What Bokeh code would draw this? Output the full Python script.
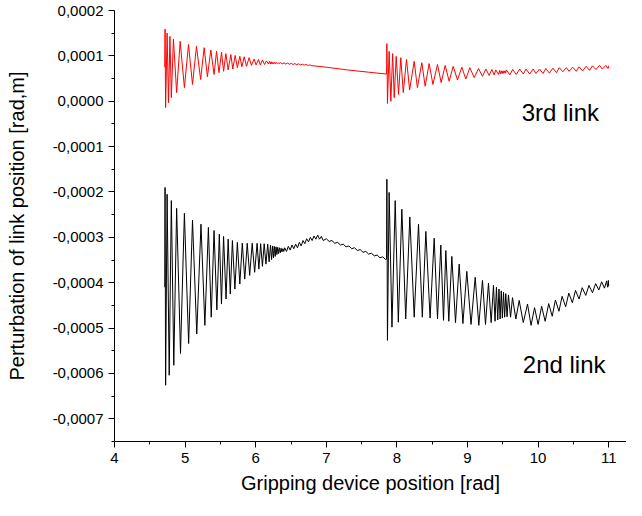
from bokeh.plotting import figure
from bokeh.models import Range1d, FixedTicker, Label
from bokeh.embed import file_html
from bokeh.resources import INLINE

# ---------------- data (y values in units of 1e-4 rad/m) ----------------
Y_UNIT = 1e-4

x_tick_values = [4, 5, 6, 7, 8, 9, 10, 11]
x_minor_values = [4.5, 5.5, 6.5, 7.5, 8.5, 9.5, 10.5]
y_tick_values = [-0.0007, -0.0006, -0.0005, -0.0004, -0.0003, -0.0002, -0.0001, 0.0, 0.0001, 0.0002]
y_tick_labels = ["-0,0007", "-0,0006", "-0,0005", "-0,0004", "-0,0003", "-0,0002", "-0,0001",
                 "0,0000", "0,0001", "0,0002"]
y_minor_values = [-0.00075, -0.00065, -0.00055, -0.00045, -0.00035, -0.00025, -0.00015,
                  -0.00005, 0.00005, 0.00015]

# 2nd link (black): extremes
link2_burst1 = [(4.712, -4.10), (4.716, -1.90), (4.724, -6.26), (4.745, -2.05), (4.775, -6.04),
                (4.805, -2.19), (4.840, -5.82), (4.880, -2.36), (4.935, -5.56), (4.990, -2.47),
                (5.050, -5.34), (5.105, -2.62), (5.165, -5.13), (5.225, -2.71), (5.280, -4.94),
                (5.330, -2.78), (5.370, -4.76), (5.410, -2.85), (5.450, -4.60), (5.485, -2.93),
                (5.515, -4.47), (5.545, -2.98), (5.580, -4.36), (5.610, -3.04), (5.640, -4.25),
                (5.670, -3.07), (5.705, -4.14), (5.740, -3.11), (5.775, -4.03), (5.810, -3.13),
                (5.845, -3.92), (5.880, -3.13), (5.915, -3.84), (5.950, -3.13), (5.985, -3.77),
                (6.020, -3.13), (6.045, -3.70), (6.070, -3.14), (6.095, -3.64), (6.120, -3.14),
                (6.145, -3.59), (6.170, -3.15), (6.190, -3.54), (6.210, -3.17), (6.225, -3.49),
                (6.240, -3.19), (6.252, -3.45), (6.264, -3.20), (6.276, -3.42), (6.288, -3.21),
                (6.300, -3.38), (6.312, -3.22), (6.324, -3.36), (6.336, -3.23), (6.348, -3.34),
                (6.360, -3.24), (6.372, -3.32), (6.385, -3.25), (6.398, -3.31)]
link2_ripple1 = [(6.410, -3.23), (6.436, -3.31), (6.462, -3.20), (6.488, -3.28), (6.514, -3.17),
                 (6.540, -3.25), (6.566, -3.15), (6.592, -3.23), (6.618, -3.11), (6.644, -3.19),
                 (6.670, -3.07), (6.696, -3.14), (6.722, -3.03), (6.748, -3.10), (6.774, -3.00),
                 (6.800, -3.07), (6.826, -2.97), (6.852, -3.04), (6.878, -2.95), (6.904, -3.04),
                 (6.930, -2.98), (6.956, -3.07), (7.00, -3.03), (7.04, -3.09), (7.08, -3.07),
                 (7.12, -3.13), (7.16, -3.11), (7.20, -3.17), (7.24, -3.15), (7.28, -3.21),
                 (7.32, -3.19), (7.36, -3.25), (7.40, -3.23), (7.44, -3.29), (7.48, -3.27),
                 (7.52, -3.33), (7.56, -3.31), (7.60, -3.37), (7.64, -3.35), (7.68, -3.41),
                 (7.72, -3.39), (7.76, -3.45), (7.80, -3.43), (7.84, -3.49)]
link2_burst2 = [(7.854, -3.48), (7.858, -1.72), (7.866, -5.27), (7.89, -2.01), (7.93, -4.98),
                (7.976, -2.19), (8.02, -4.87), (8.07, -2.38), (8.125, -4.80), (8.183, -2.55),
                (8.245, -4.76), (8.306, -2.71), (8.36, -4.76), (8.41, -2.87), (8.47, -4.78),
                (8.528, -3.02), (8.575, -4.80), (8.622, -3.17), (8.66, -4.83), (8.693, -3.29),
                (8.735, -4.85), (8.778, -3.42), (8.83, -4.88), (8.882, -3.59), (8.935, -4.90),
                (8.990, -3.75), (9.05, -4.92), (9.109, -3.88), (9.16, -4.94), (9.212, -3.95),
                (9.255, -4.92), (9.297, -4.01), (9.335, -4.88), (9.368, -4.06), (9.39, -4.85),
                (9.41, -4.10), (9.428, -4.82), (9.446, -4.14), (9.462, -4.80), (9.478, -4.18),
                (9.494, -4.78), (9.510, -4.21), (9.526, -4.76), (9.542, -4.24), (9.56, -4.75),
                (9.58, -4.27), (9.61, -4.76), (9.637, -4.33), (9.685, -4.80), (9.732, -4.39),
                (9.79, -4.88), (9.850, -4.47), (9.90, -4.94), (9.95, -4.55), (10.00, -4.92)]
link2_ripple2 = [(10.05, -4.52), (10.10, -4.85), (10.15, -4.46), (10.20, -4.74), (10.245, -4.38),
                 (10.295, -4.63), (10.34, -4.30), (10.39, -4.53), (10.435, -4.23), (10.485, -4.44),
                 (10.53, -4.17), (10.58, -4.36), (10.625, -4.11), (10.675, -4.28), (10.72, -4.06),
                 (10.77, -4.22), (10.815, -4.02), (10.86, -4.16), (10.90, -3.98), (10.94, -4.12),
                 (10.97, -3.96), (10.985, -4.10), (10.995, -3.95), (11.0, -4.08)]

# 3rd link (red): extremes
link3_burst1 = [(4.712, 0.75), (4.716, 1.59), (4.724, -0.14), (4.745, 1.50), (4.765, -0.03),
                (4.785, 1.43), (4.805, 0.08), (4.835, 1.37), (4.88, 0.19), (4.93, 1.32),
                (4.99, 0.30), (5.048, 1.25), (5.105, 0.37), (5.161, 1.21), (5.22, 0.48),
                (5.27, 1.18), (5.316, 0.54), (5.364, 1.13), (5.41, 0.59), (5.445, 1.10),
                (5.48, 0.63), (5.516, 1.08), (5.545, 0.66), (5.577, 1.05), (5.61, 0.69),
                (5.648, 1.03), (5.675, 0.71), (5.709, 1.01), (5.74, 0.74), (5.775, 0.99),
                (5.805, 0.76), (5.837, 0.98), (5.87, 0.77), (5.907, 0.96), (5.94, 0.79),
                (5.978, 0.93), (6.005, 0.80), (6.04, 0.92), (6.065, 0.80), (6.096, 0.91),
                (6.125, 0.81), (6.153, 0.89), (6.18, 0.82), (6.195, 0.88), (6.207, 0.82),
                (6.219, 0.87), (6.231, 0.82), (6.243, 0.86), (6.255, 0.825), (6.267, 0.86),
                (6.279, 0.825), (6.291, 0.855), (6.303, 0.83), (6.315, 0.85), (6.327, 0.83)]
link3_ripple1 = [(6.35, 0.85), (6.376, 0.825), (6.40, 0.845), (6.426, 0.82), (6.452, 0.84),
                 (6.478, 0.815), (6.504, 0.835), (6.53, 0.81), (6.556, 0.83), (6.582, 0.805),
                 (6.608, 0.825), (6.634, 0.80), (6.66, 0.815), (6.686, 0.795), (6.712, 0.81),
                 (6.738, 0.79), (6.764, 0.80), (6.79, 0.785), (7.0, 0.75), (7.3, 0.69),
                 (7.6, 0.64), (7.85, 0.60)]
link3_burst2 = [(7.854, 0.60), (7.858, 1.27), (7.866, -0.05), (7.89, 1.10), (7.914, 0.00),
                (7.94, 1.05), (7.962, 0.08), (7.99, 0.99), (8.023, 0.15), (8.055, 0.96),
                (8.09, 0.19), (8.136, 0.92), (8.18, 0.25), (8.245, 0.88), (8.29, 0.30),
                (8.353, 0.85), (8.40, 0.33), (8.457, 0.83), (8.51, 0.37), (8.575, 0.81),
                (8.627, 0.41), (8.684, 0.79), (8.74, 0.44), (8.797, 0.77), (8.858, 0.47),
                (8.92, 0.75), (8.976, 0.49), (9.033, 0.74), (9.095, 0.52), (9.156, 0.72),
                (9.212, 0.55), (9.26, 0.71), (9.307, 0.57), (9.345, 0.70), (9.378, 0.58),
                (9.40, 0.69), (9.44, 0.59), (9.455, 0.68), (9.467, 0.60), (9.479, 0.67),
                (9.491, 0.61), (9.503, 0.67), (9.515, 0.615), (9.527, 0.67), (9.539, 0.62)]
link3_ripple2 = [(9.55, 0.69), (9.60, 0.58), (9.64, 0.70), (9.69, 0.59), (9.74, 0.71),
                 (9.79, 0.60), (9.83, 0.71), (9.88, 0.60), (9.93, 0.71), (9.97, 0.61),
                 (10.02, 0.71), (10.07, 0.61), (10.11, 0.72), (10.16, 0.62), (10.21, 0.73),
                 (10.26, 0.63), (10.30, 0.74), (10.35, 0.65), (10.40, 0.74), (10.44, 0.66),
                 (10.49, 0.75), (10.54, 0.66), (10.58, 0.76), (10.63, 0.67), (10.68, 0.77),
                 (10.73, 0.68), (10.77, 0.78), (10.82, 0.70), (10.87, 0.79), (10.91, 0.71),
                 (10.96, 0.79), (10.99, 0.72), (11.00, 0.78)]

series_names = ["2nd link", "3rd link"]
x_title = "Gripping device position [rad]"
y_title = "Perturbation of link position [rad,m]"


def build(*segments):
    xs, ys = [], []
    for seg in segments:
        for x, y in seg:
            xs.append(x)
            ys.append(y * Y_UNIT)
    return xs, ys


x2, y2 = build(link2_burst1, link2_ripple1, link2_burst2, link2_ripple2)
x3, y3 = build(link3_burst1, link3_ripple1, link3_burst2, link3_ripple2)

FONT = "Liberation Sans"
X0, X1 = 4, 11.252
Y0, Y1 = -0.00075, 0.0002

p = figure(width=626, height=500, output_backend="svg", toolbar_location=None,
           x_range=Range1d(X0, X1), y_range=Range1d(Y0, Y1),
           min_border_left=114, min_border_right=0, min_border_top=10, min_border_bottom=59)
p.grid.visible = False
p.outline_line_color = None
p.background_fill_color = "white"
p.border_fill_color = "white"

p.line(x2, y2, line_color="black", line_width=1)
p.line(x3, y3, line_color="red", line_width=1)

for ax in (p.xaxis[0], p.yaxis[0]):
    ax.axis_line_color = "black"
    ax.axis_line_width = 1
    ax.major_tick_line_color = "black"
    ax.minor_tick_line_color = "black"
    ax.major_tick_in = 0
    ax.major_tick_out = 6
    ax.minor_tick_in = 0
    ax.minor_tick_out = 3
    ax.major_label_text_font = FONT
    ax.major_label_text_font_size = "15px"
    ax.major_label_text_color = "black"
    ax.axis_label_text_font = FONT
    ax.axis_label_text_font_size = "20px"
    ax.axis_label_text_font_style = "normal"
    ax.axis_label_text_color = "black"
    ax.major_label_standoff = 5

p.xaxis[0].ticker = FixedTicker(ticks=x_tick_values, minor_ticks=x_minor_values)
p.yaxis[0].ticker = FixedTicker(ticks=y_tick_values, minor_ticks=y_minor_values)
p.yaxis[0].major_label_overrides = dict(zip(y_tick_values, y_tick_labels))
p.xaxis[0].axis_label = x_title
p.yaxis[0].axis_label = y_title
p.xaxis[0].axis_label_standoff = 6
p.yaxis[0].axis_label_standoff = 22

p.add_layout(Label(x=10.863, y=-0.0000253, text=series_names[1], text_align="right",
                   text_baseline="alphabetic", text_font=FONT, text_font_size="24px",
                   text_color="black"))
p.add_layout(Label(x=10.955, y=-0.000581, text=series_names[0], text_align="right",
                   text_baseline="alphabetic", text_font=FONT, text_font_size="24px",
                   text_color="black"))

open("out.html", "w").write(file_html(p, INLINE))
